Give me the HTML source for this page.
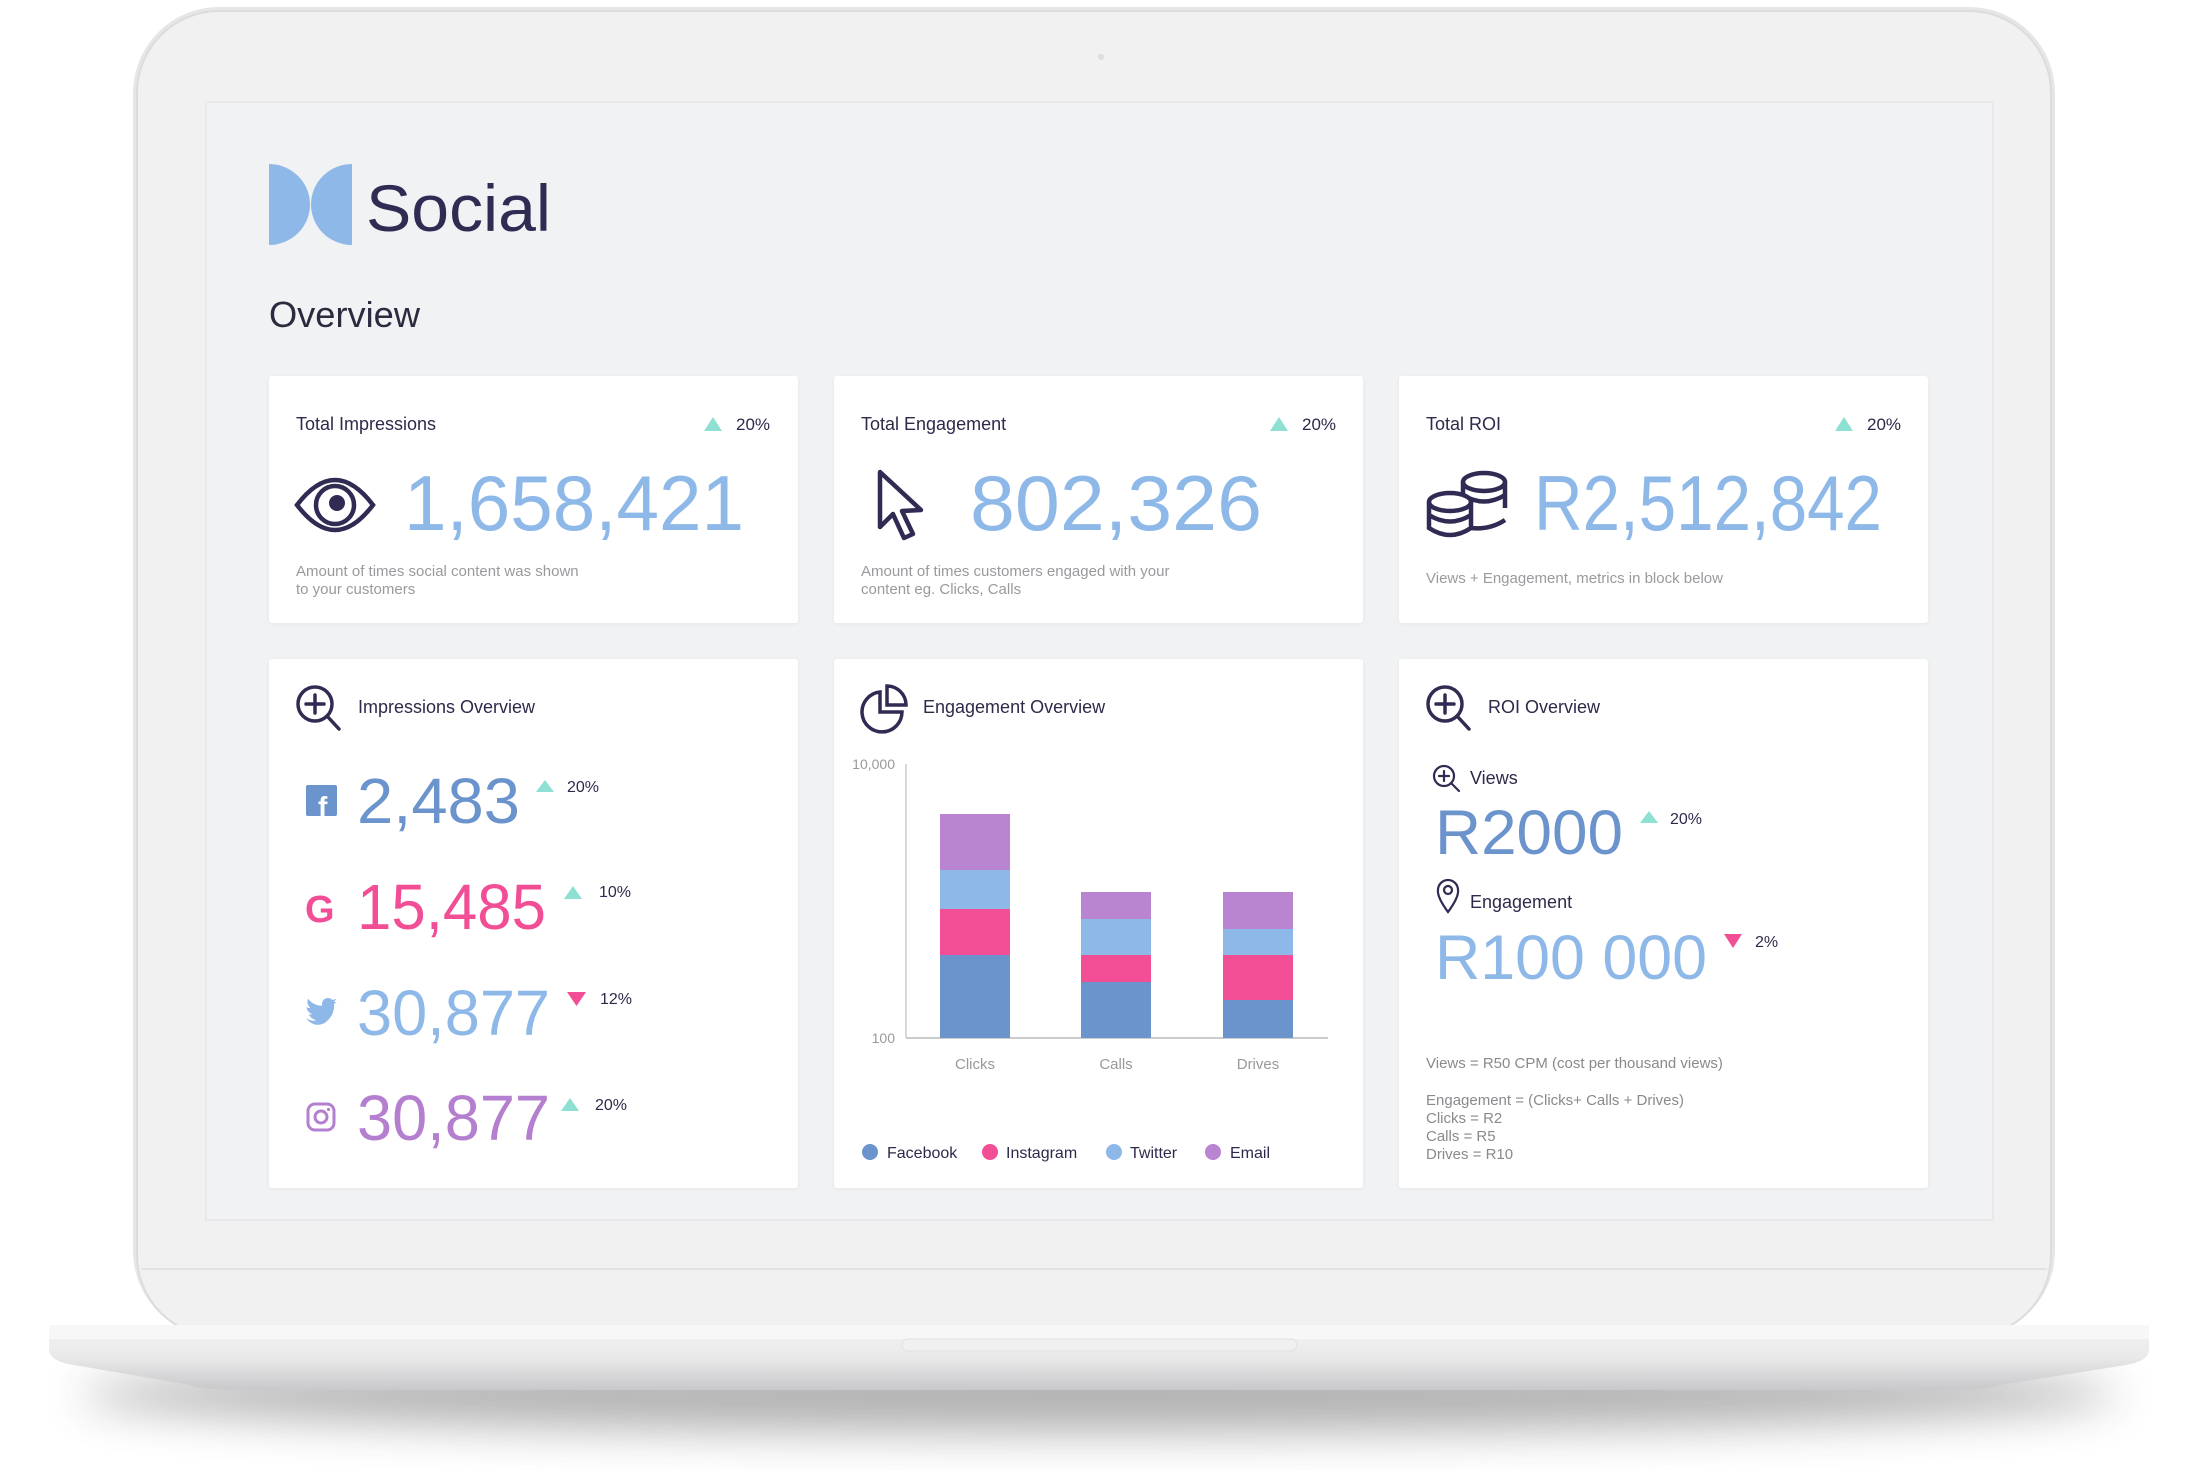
<!DOCTYPE html>
<html><head><meta charset="utf-8"><style>
html,body{margin:0;padding:0;background:#fff;}
svg{display:block}
text{font-family:"Liberation Sans",sans-serif;}
</style></head><body>
<svg width="2188" height="1473" viewBox="0 0 2188 1473" xmlns="http://www.w3.org/2000/svg">
<defs>
<filter id="blur" x="-20%" y="-50%" width="140%" height="200%"><feGaussianBlur stdDeviation="22"/></filter>
<filter id="cs" x="-10%" y="-10%" width="120%" height="120%"><feDropShadow dx="0" dy="1" stdDeviation="1.5" flood-color="#000" flood-opacity="0.05"/></filter>
<linearGradient id="base" x1="0" y1="0" x2="0" y2="1"><stop offset="0" stop-color="#f4f4f5"/><stop offset="0.5" stop-color="#e9e9ea"/><stop offset="1" stop-color="#c9c9cb"/></linearGradient>
</defs>
<ellipse cx="1099" cy="1395" rx="1020" ry="38" fill="#555" opacity="0.45" filter="url(#blur)"/>
<rect x="133" y="7" width="1922" height="1330" rx="86" fill="#e6e6e8"/>
<rect x="137" y="11" width="1914" height="1326" rx="82" fill="#f1f1f2" stroke="#dcdcde" stroke-width="2"/>
<line x1="141" y1="1269" x2="2047" y2="1269" stroke="#e2e2e4" stroke-width="2"/>
<circle cx="1101" cy="57" r="3" fill="#ddd"/>
<rect x="206" y="102" width="1787" height="1118" fill="#f1f2f3" stroke="#e6e6e8" stroke-width="1.5"/>
<path d="M49 1325 L2149 1325 L2149 1350 Q2149 1362 2120 1366 L2000 1385 Q1990 1390 1940 1390 L1700 1390 L300 1390 L250 1390 Q200 1390 190 1385 L80 1366 Q49 1362 49 1350 Z" fill="url(#base)"/>
<rect x="49" y="1325" width="2100" height="14" fill="#f7f7f8"/>
<rect x="902" y="1339" width="395" height="12" rx="6" fill="#f0f0f1" stroke="#e0e0e2"/>

<!-- logo -->
<path d="M269 164 A41 40.5 0 0 1 269 245 Z" fill="#8db8e8"/>
<path d="M352 164 L352 245 A41 40.5 0 0 1 352 164 Z" fill="#8db8e8"/>
<text x="366" y="231" font-size="66" fill="#2f2b52" textLength="185" lengthAdjust="spacingAndGlyphs">Social</text>
<text x="269" y="327" font-size="36" fill="#2b2a3e" textLength="151" lengthAdjust="spacingAndGlyphs">Overview</text>

<g fill="#fff" filter="url(#cs)">
<rect x="269" y="376" width="529" height="247" rx="3"/>
<rect x="834" y="376" width="529" height="247" rx="3"/>
<rect x="1399" y="376" width="529" height="247" rx="3"/>
<rect x="269" y="659" width="529" height="529" rx="3"/>
<rect x="834" y="659" width="529" height="529" rx="3"/>
<rect x="1399" y="659" width="529" height="529" rx="3"/>
</g>

<text x="296" y="430" font-size="18" fill="#2d2a4a">Total Impressions</text>
<path d="M704 431 L713 417 L722 431Z" fill="#8ee0d2"/>
<text x="736" y="430" font-size="17" fill="#2d2a4a">20%</text>
<g fill="none" stroke="#2f2b52" stroke-width="4.5">
<path d="M297 505 Q335 455 373 505 Q335 555 297 505Z"/>
<circle cx="335" cy="505" r="19"/>
</g>
<circle cx="337" cy="503" r="8" fill="#2f2b52"/>
<text x="404" y="530" font-size="78" fill="#8db8e8" textLength="340" lengthAdjust="spacingAndGlyphs">1,658,421</text>
<text x="296" y="576" font-size="15" fill="#9a9a9e">Amount of times social content was shown</text>
<text x="296" y="594" font-size="15" fill="#9a9a9e">to your customers</text>

<text x="861" y="430" font-size="18" fill="#2d2a4a">Total Engagement</text>
<path d="M1270 431 L1279 417 L1288 431Z" fill="#8ee0d2"/>
<text x="1302" y="430" font-size="17" fill="#2d2a4a">20%</text>
<path d="M880 472 L880 527 L893 514 L904 538 L913 534 L902 511 L921 510 Z" fill="none" stroke="#2f2b52" stroke-width="4.5" stroke-linejoin="round"/>
<text x="970" y="530" font-size="78" fill="#8db8e8" textLength="292" lengthAdjust="spacingAndGlyphs">802,326</text>
<text x="861" y="576" font-size="15" fill="#9a9a9e">Amount of times customers engaged with your</text>
<text x="861" y="594" font-size="15" fill="#9a9a9e">content eg. Clicks, Calls</text>

<text x="1426" y="430" font-size="18" fill="#2d2a4a">Total ROI</text>
<path d="M1835 431 L1844 417 L1853 431Z" fill="#8ee0d2"/>
<text x="1867" y="430" font-size="17" fill="#2d2a4a">20%</text>
<g fill="none" stroke="#2f2b52" stroke-width="4.5">
<ellipse cx="1484" cy="482" rx="21" ry="9"/>
<path d="M1463 482 L1463 508 M1505 482 L1505 508"/>
<path d="M1463 495 Q1484 508 1505 495"/>
<ellipse cx="1450" cy="502" rx="21" ry="9" fill="#fff"/>
<path d="M1429 502 L1429 528 Q1450 542 1471 528 L1471 502 M1429 515 Q1450 528 1471 515"/>
<path d="M1471 528 Q1490 530 1505 520"/>
</g>
<text x="1534" y="530" font-size="78" fill="#8db8e8" textLength="348" lengthAdjust="spacingAndGlyphs">R2,512,842</text>
<text x="1426" y="583" font-size="15" fill="#9a9a9e">Views + Engagement, metrics in block below</text>

<g fill="none" stroke="#2f2b52" stroke-width="3.5" stroke-linecap="round">
<circle cx="315" cy="704" r="17"/><path d="M327 716 L339 729 M315 695 L315 713 M306 704 L324 704"/>
</g>
<text x="358" y="713" font-size="18" fill="#2d2a4a">Impressions Overview</text>
<rect x="306" y="785" width="31" height="31" rx="2" fill="#6b93cc"/>
<text x="318" y="816" font-size="28" font-weight="bold" fill="#fff">f</text>
<text x="357" y="823" font-size="64" fill="#6b93cc" textLength="163" lengthAdjust="spacingAndGlyphs">2,483</text>
<path d="M536 792 L545 780 L554 792Z" fill="#8ee0d2"/>
<text x="567" y="792" font-size="16" fill="#2d2a4a">20%</text>

<text x="305" y="922" font-size="38" font-weight="bold" fill="#f14e95">G</text>
<text x="357" y="929" font-size="64" fill="#f14e95" textLength="189" lengthAdjust="spacingAndGlyphs">15,485</text>
<path d="M564 899 L573 886 L582 899Z" fill="#8ee0d2"/>
<text x="599" y="897" font-size="16" fill="#2d2a4a">10%</text>

<g transform="translate(306,998) scale(0.7) translate(-307,-974)">
<path d="M307 1003 Q316 1008 322 1006 Q313 1003 311 997 Q314 998 316 997 Q308 994 308 987 Q311 989 313 988 Q307 982 310 975 Q318 985 330 985 Q329 975 338 974 Q342 974 345 977 L350 975 L347 980 L351 979 L347 983 Q348 1000 333 1010 Q318 1017 307 1003Z" fill="#8db8e8"/>
</g>
<text x="357" y="1035" font-size="64" fill="#8db8e8" textLength="193" lengthAdjust="spacingAndGlyphs">30,877</text>
<path d="M567 992 L586 992 L576.5 1006Z" fill="#f14e95"/>
<text x="600" y="1004" font-size="16" fill="#2d2a4a">12%</text>

<g fill="none" stroke="#b57fd0" stroke-width="3">
<rect x="308" y="1104" width="26" height="26" rx="7"/><circle cx="321" cy="1117" r="6"/>
</g>
<circle cx="328.5" cy="1109.5" r="1.6" fill="#b57fd0"/>
<text x="357" y="1140" font-size="64" fill="#b57fd0" textLength="193" lengthAdjust="spacingAndGlyphs">30,877</text>
<path d="M561 1111 L570 1098 L579 1111Z" fill="#8ee0d2"/>
<text x="595" y="1110" font-size="16" fill="#2d2a4a">20%</text>

<g fill="none" stroke="#2f2b52" stroke-width="3.5">
<path d="M880 692 A20 20 0 1 0 902 712 L880 712 Z"/>
<path d="M887 686 L887 705 L906 705 A19 19 0 0 0 887 686Z"/>
</g>
<text x="923" y="713" font-size="18" fill="#2d2a4a">Engagement Overview</text>
<line x1="906" y1="764" x2="906" y2="1038" stroke="#ccc" stroke-width="1.5"/>
<line x1="906" y1="1038" x2="1328" y2="1038" stroke="#ccc" stroke-width="2"/>
<text x="895" y="769" font-size="14" fill="#999" text-anchor="end">10,000</text>
<text x="895" y="1043" font-size="14" fill="#999" text-anchor="end">100</text>
<g>
<rect x="940" y="814" width="70" height="56" fill="#b984d0"/>
<rect x="940" y="870" width="70" height="39" fill="#8db8e8"/>
<rect x="940" y="909" width="70" height="46" fill="#f14e95"/>
<rect x="940" y="955" width="70" height="83" fill="#6b93cc"/>
<rect x="1081" y="892" width="70" height="27" fill="#b984d0"/>
<rect x="1081" y="919" width="70" height="36" fill="#8db8e8"/>
<rect x="1081" y="955" width="70" height="27" fill="#f14e95"/>
<rect x="1081" y="982" width="70" height="56" fill="#6b93cc"/>
<rect x="1223" y="892" width="70" height="37" fill="#b984d0"/>
<rect x="1223" y="929" width="70" height="26" fill="#8db8e8"/>
<rect x="1223" y="955" width="70" height="45" fill="#f14e95"/>
<rect x="1223" y="1000" width="70" height="38" fill="#6b93cc"/>
</g>
<g font-size="15" fill="#999" text-anchor="middle">
<text x="975" y="1069">Clicks</text><text x="1116" y="1069">Calls</text><text x="1258" y="1069">Drives</text>
</g>
<circle cx="870" cy="1152" r="8" fill="#6b93cc"/>
<circle cx="990" cy="1152" r="8" fill="#f14e95"/>
<circle cx="1114" cy="1152" r="8" fill="#8db8e8"/>
<circle cx="1213" cy="1152" r="8" fill="#b984d0"/>
<g font-size="16" fill="#2d2a4a">
<text x="887" y="1158">Facebook</text><text x="1006" y="1158">Instagram</text><text x="1130" y="1158">Twitter</text><text x="1230" y="1158">Email</text>
</g>

<g fill="none" stroke="#2f2b52" stroke-width="3.5" stroke-linecap="round">
<circle cx="1445" cy="704" r="17"/><path d="M1457 716 L1469 729 M1445 695 L1445 713 M1436 704 L1454 704"/>
</g>
<text x="1488" y="713" font-size="18" fill="#2d2a4a">ROI Overview</text>
<g fill="none" stroke="#2f2b52" stroke-width="2.2" stroke-linecap="round">
<circle cx="1444" cy="776" r="10"/><path d="M1451 783 L1459 791 M1444 771 L1444 781 M1439 776 L1449 776"/>
<path d="M1448 912 Q1437 897 1438 890 A10 10 0 0 1 1458 890 Q1459 897 1448 912Z"/><circle cx="1448" cy="890" r="4"/>
</g>
<text x="1470" y="784" font-size="18" fill="#2d2a4a">Views</text>
<text x="1435" y="854" font-size="63" fill="#6b93cc" textLength="188" lengthAdjust="spacingAndGlyphs">R2000</text>
<path d="M1640 823 L1649 811 L1658 823Z" fill="#8ee0d2"/>
<text x="1670" y="824" font-size="16" fill="#2d2a4a">20%</text>
<text x="1470" y="908" font-size="18" fill="#2d2a4a">Engagement</text>
<text x="1435" y="979" font-size="63" fill="#8db8e8" textLength="272" lengthAdjust="spacingAndGlyphs">R100 000</text>
<path d="M1724 934 L1742 934 L1733 948Z" fill="#f14e95"/>
<text x="1755" y="947" font-size="16" fill="#2d2a4a">2%</text>
<g font-size="15" fill="#8a8a8e">
<text x="1426" y="1068">Views = R50 CPM (cost per thousand views)</text>
<text x="1426" y="1105">Engagement = (Clicks+ Calls + Drives)</text>
<text x="1426" y="1123">Clicks = R2</text>
<text x="1426" y="1141">Calls = R5</text>
<text x="1426" y="1159">Drives = R10</text>
</g>
</svg>
</body></html>
